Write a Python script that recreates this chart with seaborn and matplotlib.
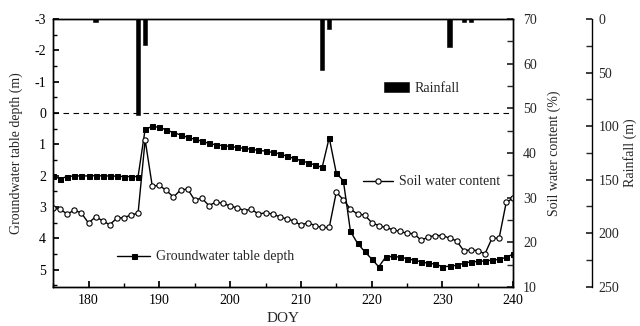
import numpy as np
import pandas as pd
import seaborn as sns
import matplotlib.pyplot as plt
from matplotlib.ticker import MultipleLocator

# data
doy = np.arange(175, 241)
gw_depth = [2.02, 2.10, 2.03, 2.01, 2.01, 2.01, 2.00, 2.01, 2.01, 2.02, 2.03, 2.03, 2.03,
            0.52, 0.43, 0.46, 0.54, 0.63, 0.70, 0.78, 0.84, 0.90, 0.97, 1.02, 1.04, 1.07,
            1.10, 1.13, 1.16, 1.19, 1.22, 1.26, 1.30, 1.38, 1.45, 1.52, 1.59, 1.66, 1.74,
            0.79, 1.92, 2.17, 3.78, 4.16, 4.42, 4.66, 4.91, 4.59, 4.58, 4.60, 4.65, 4.70,
            4.75, 4.80, 4.82, 4.91, 4.89, 4.86, 4.80, 4.75, 4.74, 4.72, 4.70, 4.67, 4.61, 4.50]
soil_water = [27.6, 27.4, 26.3, 27.2, 26.5, 24.3, 25.7, 24.8, 23.9, 25.4, 25.5, 26.1, 26.5,
              42.9, 32.6, 32.7, 31.6, 30.1, 31.7, 31.9, 29.4, 29.9, 28.2, 29.0, 28.7, 28.1,
              27.7, 27.1, 27.4, 26.3, 26.6, 26.3, 25.7, 25.2, 24.8, 23.8, 24.4, 23.7, 23.3,
              23.3, 31.2, 29.5, 27.4, 26.3, 26.1, 24.4, 23.7, 23.3, 22.8, 22.4, 22.0, 21.9,
              20.4, 21.2, 21.5, 21.5, 20.9, 20.3, 18.1, 18.3, 18.1, 17.4, 20.9, 20.9, 28.9, 29.9]
rain_doy = [181, 187, 188, 213, 214, 231, 233, 234]
rain_mm = [3, 90, 24, 48, 9, 26, 3, 3]

df = pd.DataFrame({'DOY': doy, 'GWD': gw_depth, 'SWC': soil_water})
rain = pd.DataFrame({'DOY': rain_doy, 'Rain': rain_mm})

sns.set_theme(style='ticks')
plt.rcParams['font.family'] = ['Liberation Serif', 'DejaVu Serif']
plt.rcParams['axes.unicode_minus'] = False
plt.rcParams['axes.linewidth'] = 1.0
fs = 10

fig = plt.figure(figsize=(6.4, 3.26), dpi=100)
ax = fig.add_axes([0.083, 0.12, 0.719, 0.822])
ax_swc = ax.twinx()
ax_rain = ax.twinx()

# groundwater table depth (left, inverted)
sns.lineplot(data=df, x='DOY', y='GWD', ax=ax, color='black', marker='s',
             markersize=3.6, markeredgecolor='black', linewidth=1.0, legend=False)
ax.axhline(0, color='black', linestyle=(0, (5, 4)), linewidth=0.8)

# soil water content (right)
sns.lineplot(data=df, x='DOY', y='SWC', ax=ax_swc, color='black', marker='o',
             markersize=3.8, markerfacecolor='white', markeredgecolor='black',
             markeredgewidth=0.8, linewidth=1.0, legend=False)

# rainfall bars hanging from the top
sns.barplot(data=rain, x='DOY', y='Rain', ax=ax_rain, native_scale=True,
            color='black', width=0.62, saturation=1, edgecolor='black', linewidth=0.4)

ax.set_xlim(175, 240)
ax.set_ylim(5.55, -3)
ax.xaxis.set_major_locator(MultipleLocator(10))
ax.xaxis.set_minor_locator(MultipleLocator(5))
ax.yaxis.set_major_locator(MultipleLocator(1))
ax.yaxis.set_minor_locator(MultipleLocator(0.5))
ax.tick_params(which='both', direction='in', labelsize=fs, pad=5, colors='black')
ax.tick_params(which='major', length=4)
ax.tick_params(which='minor', length=3)
ax.set_xlabel('DOY', fontsize=fs + 1, labelpad=4)
ax.set_ylabel('Groundwater table depth (m)', fontsize=fs, labelpad=8)

ax_swc.set_ylim(10, 70)
ax_swc.yaxis.set_major_locator(MultipleLocator(10))
ax_swc.yaxis.set_minor_locator(MultipleLocator(5))
ax_swc.tick_params(which='both', direction='in', labelsize=fs, pad=7)
ax_swc.tick_params(which='major', length=4)
ax_swc.tick_params(which='minor', length=4)
ax_swc.set_ylabel('Soil water content (%)', fontsize=fs, labelpad=8)

ax_rain.set_xlim(175, 240)
ax_rain.set_ylim(250, 0)
ax_rain.spines['right'].set_position(('axes', 1.17))
for s in ['top', 'left', 'bottom']:
    ax_rain.spines[s].set_visible(False)
ax_rain.yaxis.set_major_locator(MultipleLocator(50))
ax_rain.yaxis.set_minor_locator(MultipleLocator(25))
ax_rain.tick_params(which='both', direction='in', labelsize=fs, pad=5)
ax_rain.tick_params(which='major', length=4)
ax_rain.tick_params(which='minor', length=4)
ax_rain.set_ylabel('Rainfall (m)', fontsize=fs, labelpad=3)
ax_rain.set_xlabel('')

for a in (ax, ax_swc):
    for s in a.spines.values():
        s.set_color('black')
ax_rain.spines['right'].set_color('black')

# legends
leg_kw = dict(frameon=False, fontsize=fs, borderpad=0, borderaxespad=0,
              handletextpad=0.4, loc='center left', bbox_transform=fig.transFigure)
ax_rain.legend(handles=[ax_rain.patches[1]], labels=['Rainfall'],
               bbox_to_anchor=(0.600, 0.730), handlelength=1.8, **leg_kw)
ax_swc.legend(handles=[ax_swc.get_lines()[0]], labels=['Soil water content'],
              bbox_to_anchor=(0.567, 0.442), handlelength=2.2, **leg_kw)
ax.legend(handles=[ax.get_lines()[0]], labels=['Groundwater table depth'],
          bbox_to_anchor=(0.183, 0.212), handlelength=2.4, **leg_kw)

plt.savefig('out.png', dpi=100)
plt.close()
